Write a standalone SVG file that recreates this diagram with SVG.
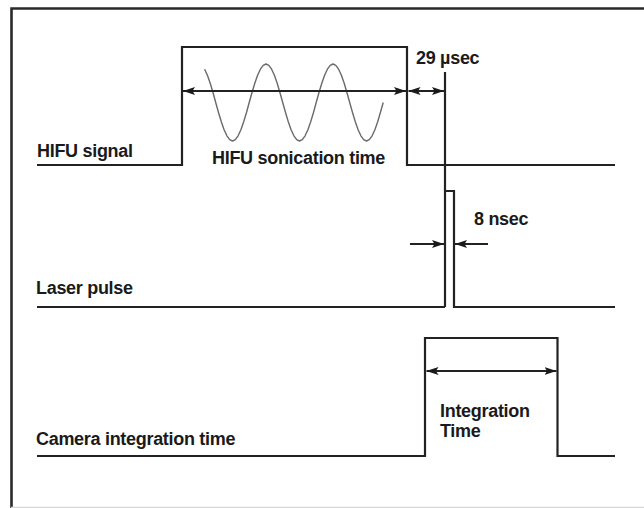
<svg xmlns="http://www.w3.org/2000/svg" width="644" height="508" viewBox="0 0 644 508">
<defs>
<marker id="ah" viewBox="0 0 12 8" refX="12" refY="4" markerWidth="12" markerHeight="8" markerUnits="userSpaceOnUse" orient="auto-start-reverse">
<path d="M0,0 L12,4 L0,8 L2.5,4 Z" fill="#1a1a1a"/>
</marker>
<style>
.sig{fill:none;stroke:#222;stroke-width:2.2;stroke-linejoin:miter}
.dim{fill:none;stroke:#222;stroke-width:2}
.wave{fill:none;stroke:#6a6a6a;stroke-width:1.4;stroke-linejoin:round}
.lbl{font-family:"Liberation Sans",Arial,sans-serif;font-weight:bold;font-size:18px;letter-spacing:-0.3px;fill:#1a1a1a}
</style>
</defs>
<rect width="644" height="508" fill="#fff"/>
<g id="frame">
<path d="M11.5,508 V8.5 H644" fill="none" stroke="#2a2a2a" stroke-width="2.6"/>
<line x1="11" y1="507.3" x2="644" y2="507.3" stroke="#d8d8d8" stroke-width="1.2"/>
</g>
<g id="hifu">
<path class="sig" d="M37,165 H182 V47 H407 V165 H615"/>
<polyline class="wave" points="204.6,69.2 207.4,75.3 210.2,83.25 213,92.5 215.7,102.5 218.5,112.5 221.3,121.75 224.1,129.7 226.9,135.8 229.7,139.7 232.5,141 235.3,139.7 238.1,135.8 240.9,129.7 243.7,121.75 246.5,112.5 249.2,102.5 252,92.5 254.8,83.25 257.6,75.3 260.4,69.2 263.2,65.3 266,64 268.8,65.3 271.6,69.2 274.4,75.3 277.2,83.25 279.9,92.5 282.7,102.5 285.5,112.5 288.3,121.75 291.1,129.7 293.9,135.8 296.7,139.7 299.5,141 302.3,139.7 305.1,135.8 307.9,129.7 310.7,121.75 313.5,112.5 316.2,102.5 319,92.5 321.8,83.25 324.6,75.3 327.4,69.2 330.2,65.3 333,64 335.8,65.3 338.6,69.2 341.4,75.3 344.2,83.25 346.9,92.5 349.7,102.5 352.5,112.5 355.3,121.75 358.1,129.7 360.9,135.8 363.7,139.7 366.5,141 369.3,139.7 372.1,135.8 374.9,129.7 377.7,121.75 380.4,112.5 383.2,102.5"/>
<text class="lbl" x="37" y="157">HIFU signal</text>
<text class="lbl" x="212" y="164">HIFU sonication time</text>
</g>
<g id="laser">
<path class="sig" d="M37,307 H445 M445,72 V307 M445,191 H454 V307 H615"/>
<text class="lbl" x="36" y="294">Laser pulse</text>
</g>
<g id="camera">
<path class="sig" d="M37,456 H425 V338 H557.5 V456 H615"/>
<text class="lbl" x="36" y="445">Camera integration time</text>
<text class="lbl" x="440" y="417">Integration</text>
<text class="lbl" x="440" y="437">Time</text>
</g>
<g id="connectors">
<line class="dim" x1="183" y1="91" x2="406" y2="91" marker-start="url(#ah)" marker-end="url(#ah)"/>
<line class="dim" x1="408.5" y1="91" x2="444" y2="91" marker-start="url(#ah)" marker-end="url(#ah)"/>
<line class="dim" x1="410" y1="244" x2="444" y2="244" marker-end="url(#ah)"/>
<line class="dim" x1="488" y1="244" x2="455" y2="244" marker-end="url(#ah)"/>
<line class="dim" x1="426.5" y1="371" x2="556.5" y2="371" marker-start="url(#ah)" marker-end="url(#ah)"/>
</g>
<g id="labels">
<text class="lbl" x="416" y="64">29 µsec</text>
<text class="lbl" x="474" y="225">8 nsec</text>
</g>
</svg>
